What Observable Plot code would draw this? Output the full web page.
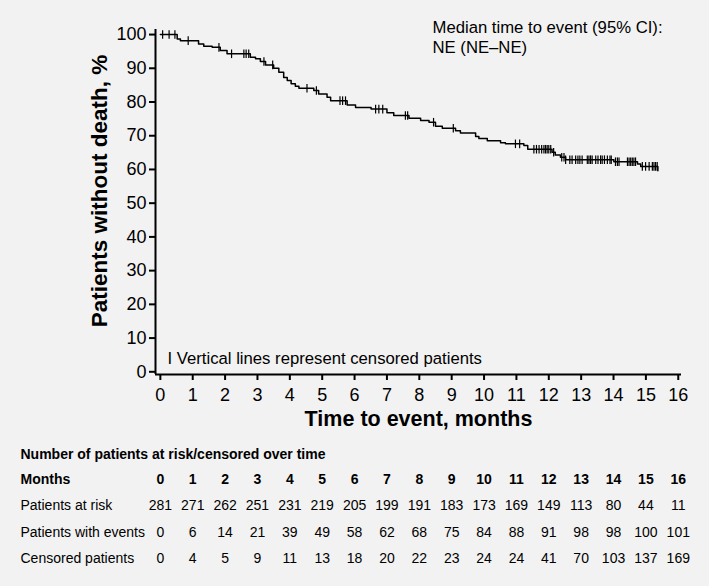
<!DOCTYPE html>
<html><head><meta charset="utf-8">
<script src="https://cdn.jsdelivr.net/npm/d3@7"></script>
<script src="https://cdn.jsdelivr.net/npm/@observablehq/plot@0.6"></script>
<style>
html,body{margin:0;padding:0;background:#f2f2f2;}
#chart svg{display:block;}
</style></head><body><div id="chart"></div>
<script>
// Kaplan–Meier steps (time in months, % without death after the step)
const stepTimes = [0,0.52,0.62,1.18,1.34,1.6,1.85,2.06,2.78,2.94,3.09,3.25,3.5,3.66,3.81,3.92,4.04,4.17,4.28,4.74,4.89,5.15,5.26,5.77,6.03,6.51,7.0,7.21,7.68,8.04,8.3,8.5,8.71,9.12,9.27,9.74,9.84,10.1,10.51,10.66,11.23,11.35,12.1,12.2,12.36,12.52,14.01,14.74,14.84,15.37];
const stepSurvival = [100,98.7,98.2,97.2,96.5,96.2,95.3,94.3,93.3,92.8,92.0,91.0,90.0,88.8,87.3,86.4,85.4,84.7,84.1,83.4,82.4,81.4,80.4,79.1,78.4,77.9,76.8,76.0,75.2,74.5,74.0,72.8,72.2,71.5,70.8,69.8,69.2,68.5,67.9,67.6,67.1,66.0,65.1,64.3,63.6,62.9,62.3,61.6,60.9,59.6];
// Censoring times (months)
const censorTimes = [0.07,0.27,0.45,0.86,1.81,2.2,2.58,2.65,2.73,3.2,3.47,4.53,4.82,5.55,5.63,5.72,6.65,6.75,6.87,7.57,7.64,8.44,9.05,10.97,11.1,11.54,11.62,11.7,11.78,11.85,11.9,11.95,12.0,12.06,12.15,12.4,12.47,12.52,12.65,12.72,12.83,12.9,12.96,13.03,13.19,13.24,13.29,13.34,13.45,13.52,13.6,13.65,13.72,13.81,13.89,13.93,14.06,14.12,14.17,14.43,14.48,14.53,14.58,14.63,14.68,14.89,14.99,15.1,15.2,15.25,15.3,15.35];

const xTicks = [0,1,2,3,4,5,6,7,8,9,10,11,12,13,14,15,16];
const yTicks = [0,10,20,30,40,50,60,70,80,90,100];
const tableMonths = [0,1,2,3,4,5,6,7,8,9,10,11,12,13,14,15,16];
const atRisk = [281,271,262,251,231,219,205,199,191,183,173,169,149,113,80,44,11];
const withEvents = [0,6,14,21,39,49,58,62,68,75,84,88,91,98,98,100,101];
const censored = [0,4,5,9,11,13,18,20,22,23,24,24,41,70,103,137,169];
const rowLabels = ["Patients at risk","Patients with events","Censored patients"];

const xDomain = [-0.15, 16.1];
const yDomain = [-0.8, 101.5];

const steps = stepTimes.map((t,i)=>({t, s: stepSurvival[i]}));
const levelAt = t => stepSurvival[d3.bisectRight(stepTimes, t) - 1];
const censors = censorTimes.map(t => ({t, s: levelAt(t)}));

const vbar = {draw(ctx, size){ const h = Math.sqrt(size/Math.PI); ctx.moveTo(0,-h); ctx.lineTo(0,h); }};

const FONT = "'Liberation Sans', Arial, sans-serif";
const left = 155;
const rows = [atRisk, withEvents, censored];
const rowDy = [135.5, 162, 188];

const tableMarks = [];
tableMarks.push(Plot.text(["Number of patients at risk/censored over time"], {frameAnchor:"bottom-left", dx: 20-left, dy: 84, textAnchor:"start", fontWeight:"bold", fontSize:14, fill:"black"}));
tableMarks.push(Plot.text(["Months"], {frameAnchor:"bottom-left", dx: 20-left, dy: 109, textAnchor:"start", fontWeight:"bold", fontSize:14, fill:"black"}));
tableMarks.push(Plot.text(tableMonths, {x: d=>d, text: d=>String(d), frameAnchor:"bottom", dy: 109, fontWeight:"bold", fontSize:14, fill:"black"}));
rows.forEach((vals, r) => {
  tableMarks.push(Plot.text([rowLabels[r]], {frameAnchor:"bottom-left", dx: 20-left, dy: rowDy[r], textAnchor:"start", fontSize:14, fill:"black"}));
  tableMarks.push(Plot.text(vals.map((v,i)=>({m: tableMonths[i], v})), {x:"m", text: d=>String(d.v), frameAnchor:"bottom", dy: rowDy[r], fontSize:14, fill:"black"}));
});

const chart = Plot.plot({
  width: 709,
  height: 586,
  marginLeft: left,
  marginRight: 28,
  marginTop: 29,
  marginBottom: 212,
  style: {fontFamily: FONT, background: "#f2f2f2", color: "black"},
  x: {domain: xDomain},
  y: {domain: yDomain},
  marks: [
    Plot.ruleY([yDomain[0]], {stroke:"black", strokeWidth:2}),
    Plot.ruleX([xDomain[0]], {stroke:"black", strokeWidth:2}),
    Plot.axisX({ticks: xTicks, tickFormat: d=>String(d), tickSize: 6, tickPadding: 8, fontSize: 18, strokeWidth: 2, label: null}),
    Plot.axisY({ticks: yTicks, tickFormat: d=>String(d), tickSize: 6, tickPadding: 3, fontSize: 18, strokeWidth: 2, label: null}),
    Plot.line(steps, {x:"t", y:"s", curve:"step-after", stroke:"black", strokeWidth:1.5}),
    Plot.dot(censors, {x:"t", y:"s", symbol: vbar, r: 4.3, stroke:"black", strokeWidth:1.2}),
    Plot.text(["Time to event, months"], {frameAnchor:"bottom", dy: 51.5, fontWeight:"bold", fontSize:21.5, fill:"black"}),
    Plot.text(["Patients without death, %"], {frameAnchor:"left", textAnchor:"middle", dx: 99-left, dy: -11, rotate:-90, fontWeight:"bold", fontSize:22.5, fill:"black"}),
    Plot.text(["Median time to event (95% CI):\nNE (NE\u2013NE)"], {frameAnchor:"top-left", dx: 432-left, dy: -11, textAnchor:"start", lineAnchor:"top", lineHeight:1.2, fontSize:16.7, fill:"black"}),
    Plot.text(["I Vertical lines represent censored patients"], {frameAnchor:"bottom-left", dx: 167-left, dy: -11, textAnchor:"start", fontSize:16.7, fill:"black"}),
    ...tableMarks
  ]
});
document.getElementById("chart").appendChild(chart);
</script></body></html>
